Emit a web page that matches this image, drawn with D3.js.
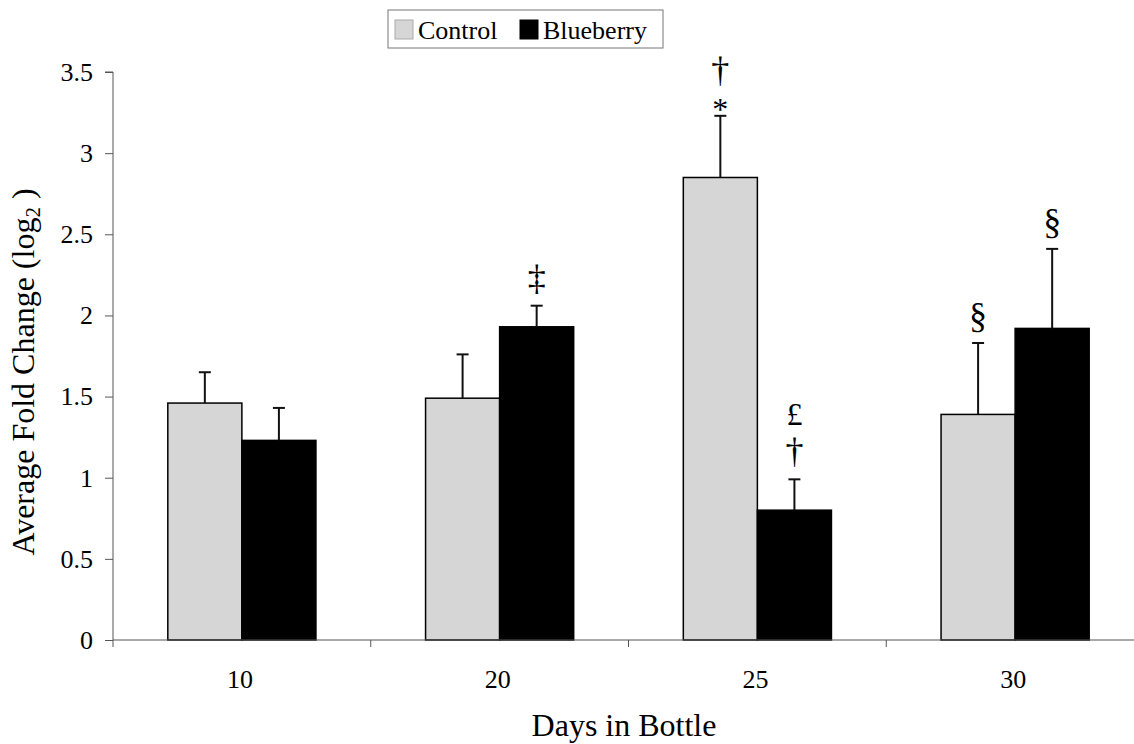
<!DOCTYPE html>
<html>
<head>
  <meta charset="UTF-8">
  <title>Average Fold Change</title>
  <style>
    body { margin: 0; background: #fff; }
    text { font-family: "Liberation Serif", "Times New Roman", serif; fill: #000; }
  </style>
</head>
<body>
<script src="https://d3js.org/d3.v7.min.js"></script>
<script>
  // datos
  let days = ["10", "20", "25", "30"];
  let series = ["Control", "Blueberry"];
  let control = [1.46, 1.49, 2.85, 1.39];
  let controlErr = [0.19, 0.27, 0.38, 0.44];
  let blueberry = [1.23, 1.93, 0.80, 1.92];
  let blueberryErr = [0.20, 0.13, 0.19, 0.49];
  let yTicks = [0, 0.5, 1, 1.5, 2, 2.5, 3, 3.5];
  // marcas de significancia encima de cada barra (de abajo hacia arriba)
  let controlMarks = [[], [], ["*", "†"], ["§"]];
  let blueberryMarks = [[], ["‡"], ["†", "£"], ["§"]];

  let width = 1134, height = 744;
  let margin = { top: 72, right: -10, bottom: 104, left: 113 };

  let svg = d3.select("body").append("svg")
    .attr("width", width)
    .attr("height", height);

  let x = d3.scaleBand()
    .domain(days)
    .range([margin.left, width - margin.right]);

  let xs = d3.scaleBand()
    .domain(series)
    .range([0, x.bandwidth()])
    .paddingInner(0)
    .paddingOuter(0.74);

  let y = d3.scaleLinear()
    .domain([0, 3.5])
    .range([height - margin.bottom, margin.top]);

  let colors = { Control: "#d6d6d6", Blueberry: "#000" };

  let rows = [];
  days.forEach(function (d, i) {
    rows.push({ day: d, s: "Control", v: control[i], e: controlErr[i], m: controlMarks[i] });
    rows.push({ day: d, s: "Blueberry", v: blueberry[i], e: blueberryErr[i], m: blueberryMarks[i] });
  });

  function cx(d) { return x(d.day) + xs(d.s) + xs.bandwidth() / 2; }

  // eje y
  let yAxis = svg.append("g")
    .attr("transform", "translate(" + margin.left + ",0)")
    .call(d3.axisLeft(y).tickValues(yTicks).tickSize(8).tickPadding(12)
      .tickFormat(function (d) { return d; }));
  yAxis.selectAll("text").attr("font-size", "26px")
    .style("font-family", "'Liberation Serif', serif");
  yAxis.selectAll("line").attr("stroke", "#555");
  yAxis.select(".domain").attr("stroke", "#555").attr("d",
    "M-8," + y(3.5) + "H0V" + y(0));

  // barras
  svg.selectAll("rect.bar")
    .data(rows)
    .enter()
    .append("rect")
    .attr("class", "bar")
    .attr("x", function (d) { return x(d.day) + xs(d.s); })
    .attr("y", function (d) { return y(d.v); })
    .attr("width", xs.bandwidth())
    .attr("height", function (d) { return y(0) - y(d.v); })
    .attr("fill", function (d) { return colors[d.s]; })
    .attr("stroke", "#000")
    .attr("stroke-width", 1.5);

  // barras de error
  let err = svg.selectAll("g.err")
    .data(rows)
    .enter()
    .append("g")
    .attr("class", "err")
    .attr("stroke", "#111")
    .attr("stroke-width", 2);
  err.append("line")
    .attr("x1", cx).attr("x2", cx)
    .attr("y1", function (d) { return y(d.v); })
    .attr("y2", function (d) { return y(d.v + d.e); });
  err.append("line")
    .attr("x1", function (d) { return cx(d) - 6; })
    .attr("x2", function (d) { return cx(d) + 6; })
    .attr("y1", function (d) { return y(d.v + d.e); })
    .attr("y2", function (d) { return y(d.v + d.e); });

  // simbolos
  rows.forEach(function (d) {
    let base = y(d.v + d.e) - 16;
    d.m.forEach(function (t, k) {
      let yy = (t === "*") ? y(d.v + d.e) + 4 : base - k * 38;
      if (k > 0 && d.m[0] === "*") yy = y(d.v + d.e) - 34;
      svg.append("text")
        .attr("x", cx(d))
        .attr("y", yy)
        .attr("text-anchor", "middle")
        .attr("font-size", (t === "*" || t === "£") ? "32px" : "36px")
        .text(t);
    });
  });

  // eje x
  let xAxis = svg.append("g")
    .attr("transform", "translate(0," + y(0) + ")");
  xAxis.append("line")
    .attr("x1", margin.left).attr("x2", width)
    .attr("stroke", "#555");
  xAxis.selectAll("line.tick")
    .data(days.concat([null]))
    .enter()
    .append("line")
    .attr("class", "tick")
    .attr("x1", function (d) { return d === null ? x.range()[1] : x(d); })
    .attr("x2", function (d) { return d === null ? x.range()[1] : x(d); })
    .attr("y1", 0).attr("y2", 7)
    .attr("stroke", "#555");
  xAxis.selectAll("text")
    .data(days)
    .enter()
    .append("text")
    .attr("x", function (d) { return x(d) + x.bandwidth() / 2 - 2; })
    .attr("y", 48)
    .attr("text-anchor", "middle")
    .attr("font-size", "26px")
    .text(function (d) { return d; });

  // titulos
  svg.append("text")
    .attr("x", 624).attr("y", 736)
    .attr("text-anchor", "middle")
    .attr("font-size", "32px")
    .text("Days in Bottle");

  let yt = svg.append("text")
    .attr("transform", "translate(34,372) rotate(-90)")
    .attr("text-anchor", "middle")
    .attr("font-size", "32px");
  yt.append("tspan").text("Average Fold Change (log");
  yt.append("tspan").attr("font-size", "21px").attr("dy", "6").text("2");
  yt.append("tspan").attr("dy", "-6").text(" )");

  // leyenda
  let lg = svg.append("g").attr("transform", "translate(388,10)");
  lg.append("rect")
    .attr("width", 275).attr("height", 38)
    .attr("fill", "#fff").attr("stroke", "#777");
  let items = lg.selectAll("g.item")
    .data(series)
    .enter()
    .append("g")
    .attr("class", "item")
    .attr("transform", function (d, i) { return "translate(" + (7 + i * 125) + ",0)"; });
  items.append("rect")
    .attr("y", 10).attr("width", 18).attr("height", 19)
    .attr("fill", function (d) { return colors[d]; })
    .attr("stroke", function (d) { return d === "Control" ? "#aaa" : "#000"; });
  items.append("text")
    .attr("x", 23).attr("y", 29)
    .attr("font-size", "26px")
    .text(function (d) { return d; });
</script>
</body>
</html>
